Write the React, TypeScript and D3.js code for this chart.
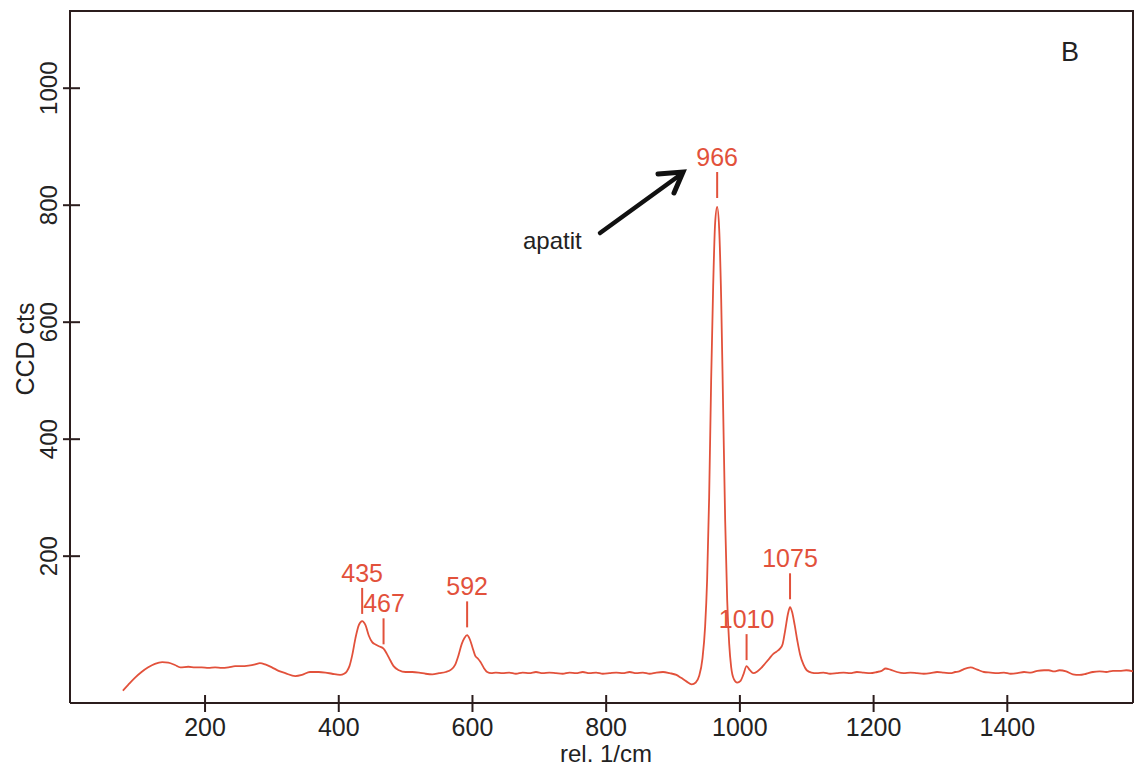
import React from "react";
import * as d3 from "d3";

const spectrumX = [
  77, 85, 95, 105, 115, 125, 136, 145, 155, 163, 175, 185, 195, 205, 215, 225, 235, 245, 255, 265, 275, 282, 290, 300, 310, 320, 335, 345, 357, 370, 380, 390, 402, 408, 412, 416, 420, 425, 430, 435, 440, 445, 450, 455, 460, 467, 472, 477, 482, 490, 500, 510, 520, 530, 540, 550, 560, 568, 574, 579, 584, 588, 592, 596, 600, 604, 608, 612, 617, 622, 628, 635, 645, 655, 665, 675, 685, 695, 705, 715, 725, 735, 745, 755, 765, 775, 785, 795, 805, 815, 825, 835, 845, 855, 865, 875, 885, 895, 905, 912, 920, 928, 934, 939, 944, 948, 951, 954, 957, 960, 963, 966, 969, 972, 975, 978, 981, 984, 987, 991, 996, 1001, 1005, 1010, 1015, 1020, 1026, 1032, 1038, 1044, 1050, 1055, 1060, 1064, 1068, 1072, 1075, 1078, 1082, 1086, 1090, 1095, 1100, 1107, 1115, 1125, 1135, 1145, 1155, 1165, 1175, 1185, 1195, 1205, 1212, 1218, 1225, 1235, 1245, 1255, 1265, 1275, 1285, 1295, 1305, 1315, 1322, 1328, 1335, 1345, 1355, 1365, 1375, 1385, 1395, 1405, 1415, 1425, 1435, 1445, 1455, 1462, 1470, 1478, 1488, 1498, 1508, 1518, 1528, 1538, 1548, 1558, 1568, 1578, 1588,
];
const spectrumY = [
  -30, -20, -8, 2, 10, 16, 19, 18, 14, 10, 11, 10, 10, 9, 10, 9, 10, 12, 12, 13, 15, 17, 15, 10, 4, 0, -5, -3, 2, 2, 1, -1, -3, -1, 3, 12, 30, 60, 82, 89, 82, 64, 53, 49, 46, 42, 33, 22, 12, 5, 2, 2, 1, -1, -2, 0, 2, 6, 14, 30, 50, 60, 65, 58, 44, 30, 25, 19, 9, 2, 0, 1, 0, 1, -1, 1, 0, 2, 0, 1, 0, -1, 1, 0, 2, 0, 1, -1, 0, 1, 0, 2, 0, 1, -1, 1, 2, 0, -3, -8, -14, -19, -16, -5, 25, 80, 160, 300, 500, 660, 770, 797, 760, 640, 450, 260, 125, 50, 10, -10, -16, -13, -3, 12, 5, 0, 3, 9, 17, 25, 33, 37, 42, 50, 75, 102, 113, 105, 82, 55, 32, 15, 5, 1, 0, 1, -1, 0, 1, 0, 2, 1, 0, 2, 4, 8, 6, 2, 0, 1, 0, -1, 0, 2, 1, 0, 2, 3, 7, 10, 6, 2, 1, 0, 1, -1, 0, 2, 1, 4, 5, 5, 3, 5, 3, -2, -3, -1, 2, 3, 2, 4, 4, 5, 3, 0, -2,
];

const xTicks = [200, 400, 600, 800, 1000, 1200, 1400];
const yTicks = [200, 400, 600, 800, 1000];

const peakLabels = ["435", "467", "592", "966", "1010", "1075"];
const peakPos = [435, 467, 592, 966, 1010, 1075];
const peakLabelValue = [156, 104, 133, 867, 77, 181];

const W = 1134;
const H = 767;
const left = 70;
const right = 1133;
const top = 11;
const bottom = 703;

const red = "#e2513b";
const axisColor = "#2b1d1d";
const font = "'Liberation Sans', Arial, sans-serif";

export default function App() {
  const x = d3.scaleLinear().domain([-2, 1588]).range([left, right]);
  const y = d3.scaleLinear().domain([-51, 1132]).range([bottom, top]);

  const pts = spectrumX.map((v, i) => [v, spectrumY[i]] as [number, number]);
  const line = d3
    .line<[number, number]>()
    .x((d) => x(d[0]))
    .y((d) => y(d[1]))
    .curve(d3.curveMonotoneX);

  return (
    <svg
      width={W}
      height={H}
      style={{ position: "absolute", left: 0, top: 0, background: "#fff" }}
      fontFamily={font}
    >
      <rect x={0} y={0} width={W} height={H} fill="#fff" />
      {/* frame */}
      <path
        d={`M${left},${bottom} L${left},${top} L${right},${top} L${right},${bottom}`}
        fill="none"
        stroke={axisColor}
        strokeWidth={2}
      />
      <line x1={left} y1={bottom} x2={right} y2={bottom} stroke={axisColor} strokeWidth={2} />

      {/* x ticks */}
      {xTicks.map((t) => (
        <g key={"x" + t}>
          <line x1={x(t)} x2={x(t)} y1={bottom - 8} y2={bottom + 9} stroke={axisColor} strokeWidth={2} />
          <text x={x(t)} y={bottom + 33} textAnchor="middle" fontSize={25} fill="#222">
            {t}
          </text>
        </g>
      ))}
      <text x={606} y={762} textAnchor="middle" fontSize={24} fill="#222">
        rel. 1/cm
      </text>

      {/* y ticks */}
      {yTicks.map((t) => (
        <g key={"y" + t}>
          <line x1={left - 7} x2={left + 10} y1={y(t)} y2={y(t)} stroke={axisColor} strokeWidth={2} />
          <text
            transform={`translate(${left - 13},${y(t)}) rotate(-90)`}
            textAnchor="middle"
            fontSize={24}
            fill="#222"
          >
            {t}
          </text>
        </g>
      ))}
      <text
        transform={`translate(34,349) rotate(-90)`}
        textAnchor="middle"
        fontSize={25}
        fill="#222"
      >
        CCD cts
      </text>

      {/* spectrum */}
      <path d={line(pts) || ""} fill="none" stroke={red} strokeWidth={1.8} strokeLinejoin="round" />

      {/* peak labels */}
      {peakPos.map((p, i) => {
        const ty = y(peakLabelValue[i]);
        const isShift = i === 1;
        const tx = isShift ? x(peakPos[0]) + 1 : x(p);
        return (
          <g key={"p" + i}>
            <text
              x={tx}
              y={ty}
              textAnchor={isShift ? "start" : "middle"}
              fontSize={25}
              fill={red}
            >
              {peakLabels[i]}
            </text>
            <line
              x1={x(p)}
              x2={x(p)}
              y1={ty + 6}
              y2={ty + 32}
              stroke={red}
              strokeWidth={2}
            />
          </g>
        );
      })}

      {/* apatit arrow */}
      <text x={523} y={249} fontSize={24} fill="#222">
        apatit
      </text>
      <line x1={600} y1={233} x2={680} y2={175} stroke="#111" strokeWidth={4.5} strokeLinecap="round" />
      <path d="M658,174 L683,172 L674,193" fill="none" stroke="#111" strokeWidth={5} strokeLinecap="round" strokeLinejoin="miter" />

      <text x={1061} y={61} fontSize={27} fill="#222">
        B
      </text>
    </svg>
  );
}
